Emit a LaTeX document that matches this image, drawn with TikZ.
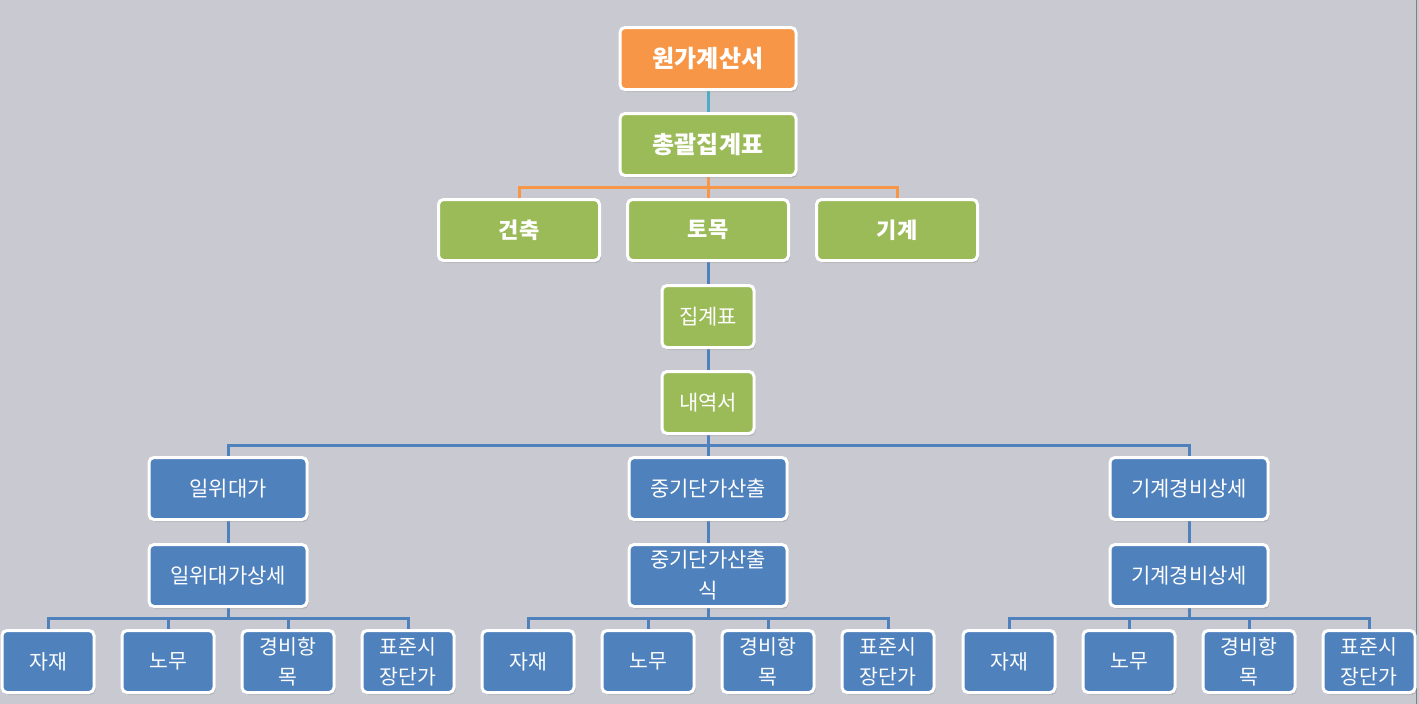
\documentclass[tikz,border=0pt]{standalone}
\usepackage{fontspec}
\setmainfont{Noto Sans CJK KR}
\usepackage{xcolor}
\usetikzlibrary{positioning}
\usetikzlibrary{shadows}
\usetikzlibrary{backgrounds}

\definecolor{bgGray}{HTML}{C9C9D1}
\definecolor{accOrange}{HTML}{F79646}
\definecolor{accGreen}{HTML}{9BBB59}
\definecolor{accBlue}{HTML}{4F81BD}
\definecolor{accCyan}{HTML}{4BACC6}

\begin{document}
\begin{tikzpicture}[x=1pt,y=1pt,line width=3pt,node distance=24pt,
    box/.style={rectangle,rounded corners=5pt,draw=white,text=white,
                outer sep=0pt,inner sep=0pt,align=center,
                drop shadow={shadow xshift=1.5pt,shadow yshift=-2.5pt,opacity=.3}},
    head node/.style={box,fill=accOrange,minimum width=176pt,minimum height=62pt,
                      font=\fontsize{24}{28}\selectfont\bfseries},
    sum node/.style={head node,fill=accGreen},
    work node/.style={box,fill=accGreen,minimum width=161pt,minimum height=61pt,
                      font=\fontsize{22}{26}\selectfont\bfseries},
    small node/.style={box,fill=accGreen,minimum width=92pt,minimum height=62pt,
                       font=\fontsize{21}{25}\selectfont},
    blue node/.style={box,fill=accBlue,minimum width=158pt,minimum height=62pt,
                      font=\fontsize{21}{31}\selectfont},
    leaf node/.style={box,fill=accBlue,minimum width=92pt,minimum height=62pt,
                      font=\fontsize{20.5}{30}\selectfont},
    fork/.style={to path={(\tikztostart.south) -- ++(0,-12) -| (\tikztotarget.north)}},
    orange line/.style={draw=accOrange,line width=3pt},
    blue line/.style={draw=accBlue,line width=3pt},
    cyan line/.style={draw=accCyan,line width=3pt}]

      % top of the tree
      \node[head node] (cost) at (708,-58) {원가계산서};
      \node[sum node] (total) [below=of cost] {총괄집계표};
      \node[work node] (civil) [below=of total] {토목};
      \node[work node] (arch) [left=28pt of civil] {건축};
      \node[work node] (mech) [right=28pt of civil] {기계};
      \node[small node] (agg) [below=25pt of civil] {집계표};
      \node[small node] (bill) [below=of agg] {내역서};

      % three branches
      \node[blue node] (mid1) [below=of bill] {중기단가산출};
      \node[blue node] (left1) [left=322pt of mid1] {일위대가};
      \node[blue node] (right1) [right=323pt of mid1] {기계경비상세};
      \node[blue node] (left2) [below=25pt of left1] {일위대가상세};
      \node[blue node] (mid2) [below=25pt of mid1] {중기단가산출\\식};
      \node[blue node] (right2) [below=25pt of right1] {기계경비상세};

      % leaves
      \node[leaf node] (lb) [below=of left2, xshift=-60pt] {노무};
      \node[leaf node] (lc) [below=of left2, xshift=60pt] {경비항\\목};
      \node[leaf node] (la) [left=28pt of lb] {자재};
      \node[leaf node] (ld) [right=28pt of lc] {표준시\\장단가};

      \node[leaf node] (mb) [below=of mid2, xshift=-60pt] {노무};
      \node[leaf node] (mc) [below=of mid2, xshift=60pt] {경비항\\목};
      \node[leaf node] (ma) [left=28pt of mb] {자재};
      \node[leaf node] (md) [right=28pt of mc] {표준시\\장단가};

      \node[leaf node] (rb) [below=of right2, xshift=-60pt] {노무};
      \node[leaf node] (rc) [below=of right2, xshift=60pt] {경비항\\목};
      \node[leaf node] (ra) [left=28pt of rb] {자재};
      \node[leaf node] (rd) [right=28pt of rc] {표준시\\장단가};

      \begin{scope}[on background layer]
      \fill[bgGray] (0,0) rectangle (1419,-703);
      \draw[gray,line width=1pt] (1416.5,0) -- (1416.5,-703);

      \path[cyan line]
	(cost) edge (total);
      \path[orange line]
	(total) edge[fork] (arch)
	        edge[fork] (civil)
	        edge[fork] (mech);
      \path[blue line]
	(civil) edge (agg)
	(agg) edge (bill)
	(bill) edge[fork] (left1)
	       edge[fork] (mid1)
	       edge[fork] (right1)
	(left1) edge (left2)
	(mid1) edge (mid2)
	(right1) edge (right2)
	(left2) edge[fork] (la)
	        edge[fork] (lb)
	        edge[fork] (lc)
	        edge[fork] (ld)
	(mid2) edge[fork] (ma)
	       edge[fork] (mb)
	       edge[fork] (mc)
	       edge[fork] (md)
	(right2) edge[fork] (ra)
	         edge[fork] (rb)
	         edge[fork] (rc)
	         edge[fork] (rd);
      \end{scope}

      \useasboundingbox (0,0) rectangle (1419,-703);
    \end{tikzpicture}
\end{document}
